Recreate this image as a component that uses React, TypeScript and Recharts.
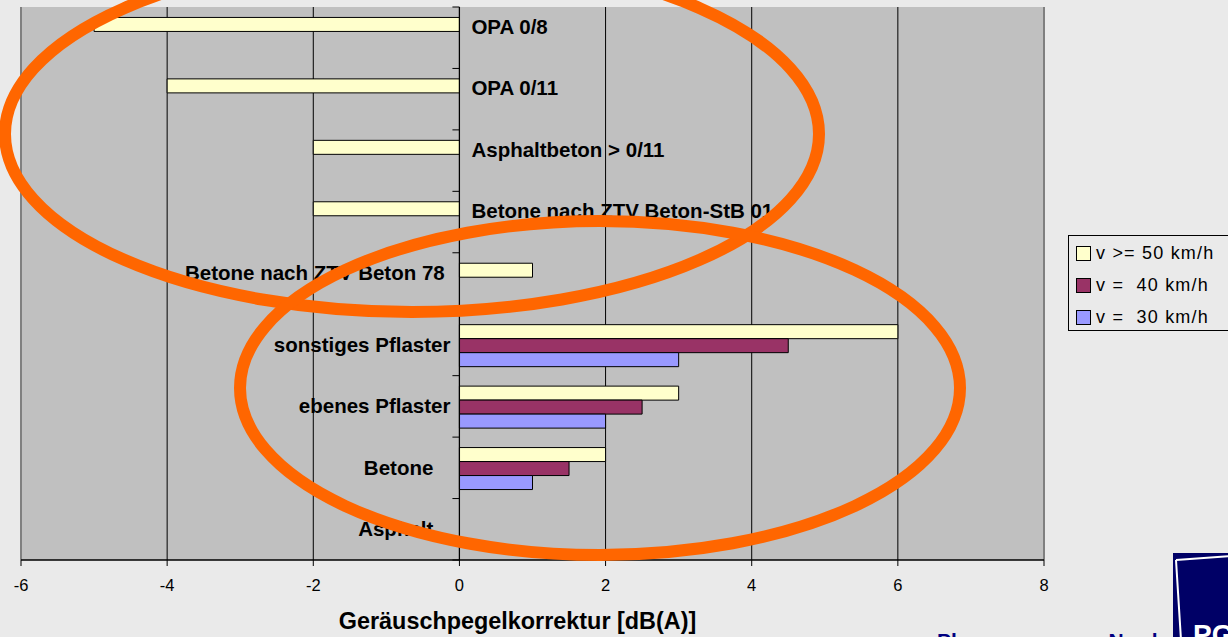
import React from "react";
import { BarChart, Bar, XAxis, YAxis, CartesianGrid, ReferenceLine } from "recharts";

// Kategorien von oben nach unten
const categories = [
  "OPA 0/8",
  "OPA 0/11",
  "Asphaltbeton > 0/11",
  "Betone nach ZTV Beton-StB 01",
  "Betone nach ZTV Beton 78 ",
  "sonstiges Pflaster",
  "ebenes Pflaster",
  "Betone   ",
  "Asphalt   ",
];
const v50 = [-5, -4, -2, -2, 1, 6, 3, 2, 0];
const v40 = [null, null, null, null, null, 4.5, 2.5, 1.5, 0];
const v30 = [null, null, null, null, null, 3, 2, 1, 0];
const seriesKeys = ["v50", "v40", "v30"];
const seriesNames = ["v >= 50 km/h", "v =  40 km/h", "v =  30 km/h"];
const seriesColors = ["#ffffcc", "#993366", "#9999ff"];
const xTicks = [-6, -4, -2, 0, 2, 4, 6, 8];

const W = 1228;
const H = 637;
const margin = { top: 7, right: 184, bottom: 37, left: 20 };
const Y_AXIS_W = 1;
const X_AXIS_H = 40;
const PLOT_LEFT = margin.left + Y_AXIS_W;
const PLOT_W = W - PLOT_LEFT - margin.right;
const PLOT_H = H - margin.top - margin.bottom - X_AXIS_H;
const BAND = PLOT_H / categories.length;
const zeroX = PLOT_LEFT + ((0 - xTicks[0]) / (xTicks[xTicks.length - 1] - xTicks[0])) * PLOT_W;

const FONT = "'Liberation Sans', Arial, sans-serif";

const data = categories.map((name, i) => ({ name, v50: v50[i], v40: v40[i], v30: v30[i] }));

const renderCategoryTick = (props: any) => {
  const { y, payload } = props;
  const i = categories.indexOf(payload.value);
  const single = v40[i] === null;
  const right = v50[i] < 0;
  return (
    <g key={`tick-${i}`}>
      <line x1={zeroX - 7} x2={zeroX} y1={y - BAND / 2} y2={y - BAND / 2} stroke="#000" />
      {i === categories.length - 1 && (
        <line x1={zeroX - 7} x2={zeroX} y1={y + BAND / 2} y2={y + BAND / 2} stroke="#000" />
      )}
      <text
        x={right ? zeroX + 12 : zeroX - 9}
        y={single ? y - 11 : y}
        dy={7}
        textAnchor={right ? "start" : "end"}
        fontFamily={FONT}
        fontWeight="bold"
        fontSize={20.5}
        fill="#000"
        style={{ whiteSpace: "pre" }}
      >
        {payload.value}
      </text>
    </g>
  );
};

export default function App() {
  return (
    <div
      style={{
        position: "absolute",
        left: 0,
        top: 0,
        width: W,
        height: H,
        background: "#eaeaea",
        overflow: "hidden",
        fontFamily: FONT,
      }}
    >
      <BarChart
        width={W}
        height={H}
        data={data}
        layout="vertical"
        margin={margin}
        barGap={0}
        barCategoryGap="17%"
      >
        <CartesianGrid horizontal={false} stroke="#000" fill="#c0c0c0" fillOpacity={1} />
        <XAxis
          type="number"
          domain={[xTicks[0], xTicks[xTicks.length - 1]]}
          ticks={xTicks}
          height={X_AXIS_H}
          axisLine={{ stroke: "#000", strokeWidth: 1.5 }}
          tickLine={{ stroke: "#000" }}
          tickSize={6}
          tickMargin={13}
          tick={{ fill: "#000", fontSize: 16.5, fontFamily: FONT }}
          label={{
            value: "Geräuschpegelkorrektur [dB(A)]",
            position: "bottom",
            offset: 12,
            dx: -15,
            style: { fill: "#000", fontSize: 23.4, fontWeight: "bold", fontFamily: FONT },
          }}
        />
        <XAxis
          xAxisId="top"
          orientation="top"
          type="number"
          domain={[xTicks[0], xTicks[xTicks.length - 1]]}
          height={0}
          tick={false}
          tickLine={false}
          axisLine={{ stroke: "#808080", strokeWidth: 2 }}
        />
        <YAxis
          type="category"
          dataKey="name"
          width={Y_AXIS_W}
          interval={0}
          axisLine={false}
          tickLine={false}
          tick={renderCategoryTick}
        />
        <ReferenceLine x={xTicks[0]} stroke="#808080" strokeWidth={2} />
        <ReferenceLine x={xTicks[xTicks.length - 1]} stroke="#808080" strokeWidth={2} />
        <ReferenceLine x={0} stroke="#000" strokeWidth={1.2} />
        {seriesKeys.map((k, i) => (
          <Bar
            key={k}
            dataKey={k}
            name={seriesNames[i]}
            fill={seriesColors[i]}
            stroke="#000"
            strokeWidth={1}
            isAnimationActive={false}
          />
        ))}
      </BarChart>

      {/* Legende */}
      <div
        style={{
          position: "absolute",
          left: 1068,
          top: 235,
          width: 180,
          height: 96,
          border: "1px solid #000",
          boxSizing: "border-box",
          paddingTop: 1,
        }}
      >
        {seriesNames.map((n, i) => (
          <div key={n} style={{ display: "flex", alignItems: "center", height: 32 }}>
            <span
              style={{
                display: "inline-block",
                width: 13,
                height: 13,
                marginLeft: 7,
                marginRight: 5,
                background: seriesColors[i],
                border: "1px solid #000",
              }}
            />
            <span style={{ fontSize: 18, letterSpacing: 1.2, whiteSpace: "pre", color: "#000" }}>{n}</span>
          </div>
        ))}
      </div>

      {/* Markierungen */}
      <svg width={W} height={H} style={{ position: "absolute", left: 0, top: 0, pointerEvents: "none" }}>
        <ellipse cx={412} cy={134} rx={407} ry={178} fill="none" stroke="#ff6600" strokeWidth={12} />
        <ellipse cx={600} cy={388} rx={360} ry={167} fill="none" stroke="#ff6600" strokeWidth={12} />
        <rect x={1173} y={553} width={60} height={90} fill="#000066" />
        <path d="M1176,560 L1233,556 M1176,560 L1181,640" stroke="#fff" strokeWidth={2} fill="none" />
        <text x={1193} y={644} fontFamily={FONT} fontWeight="bold" fontSize={28} fill="#fff">PGN</text>
        <text x={937} y={648} fontFamily={FONT} fontWeight="bold" fontSize={21} fill="#000080">
          Planungsgruppe Nord
        </text>
      </svg>
    </div>
  );
}
